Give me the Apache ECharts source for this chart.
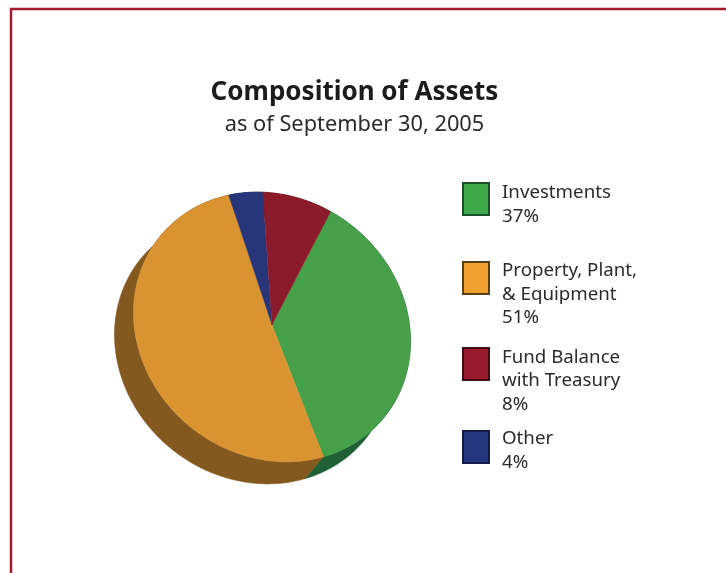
<!DOCTYPE html>
<html>
<head>
<meta charset="utf-8">
<style>html,body{margin:0;padding:0;background:#fff}#c{width:726px;height:573px}</style>
<script src="https://cdn.jsdelivr.net/npm/echarts@6/dist/echarts.min.js"></script>
</head>
<body>
<div id="c"></div>
<script>
const categories = ['Investments', 'Property, Plant,\n& Equipment', 'Fund Balance\nwith Treasury', 'Other'];
const shares = [37, 51, 8, 4];
const sweepOrder = [0, 1, 3, 2];          // clockwise order of the wedges around the disc
const faceColors = ['#45a049', '#d99330', '#8b1a2a', '#27367a'];
const wallColors = ['#1f6035', '#84591f', '#5a1119', '#18234f'];
const keyColors = ['#3fa949', '#f0a02e', '#9b1b2e', '#24367f'];
const keyEdges = ['#1d4f2a', '#5a3f16', '#3d1015', '#141d45'];
const keyTops = [183, 262, 348, 431];
const blockMiddles = [204.5, 294.5, 381, 450.5];

const FONT = '"Noto Sans", "Open Sans", sans-serif';
const disc = { cx: 272, cy: 327, apexX: 272, apexY: 325, major: 144, minor: 129, tilt: 142, dx: -19, dy: 22 };
const firstBoundary = -80;                // parametric angle where the first wedge begins

const rad = d => d * Math.PI / 180;
function rim(t, ox, oy) {
  const ca = Math.cos(rad(t)), sa = Math.sin(rad(t));
  const ct = Math.cos(rad(disc.tilt)), st = Math.sin(rad(disc.tilt));
  const u = disc.major * ca, v = disc.minor * sa;
  return [disc.cx + ox + u * ct - v * st, disc.cy + oy - (u * st + v * ct)];
}
function arc(from, to, ox, oy) {
  const n = Math.max(2, Math.ceil(Math.abs(to - from) / 2));
  const out = [];
  for (let i = 0; i <= n; i++) out.push(rim(from + (to - from) * i / n, ox, oy));
  return out;
}

// [share, boundary angle at start of wedge, colour index]
const wedgeRows = [];
let cursor = firstBoundary;
sweepOrder.forEach(i => {
  wedgeRows.push([shares[i], cursor, i]);
  cursor -= shares[i] * 3.6;
});

function renderWall(params, api) {
  const start = api.value(1), end = start - api.value(0) * 3.6;
  const pts = arc(start, end, 0, 0).concat(arc(end, start, disc.dx, disc.dy));
  const color = wallColors[api.value(2)];
  return { type: 'polygon', shape: { points: pts }, style: { fill: color, stroke: color, lineWidth: 0.6 } };
}
function renderFace(params, api) {
  const start = api.value(1), end = start - api.value(0) * 3.6;
  const pts = [[disc.apexX, disc.apexY]].concat(arc(start, end, 0, 0));
  const color = faceColors[api.value(2)];
  return { type: 'polygon', shape: { points: pts }, style: { fill: color, stroke: color, lineWidth: 0.4 } };
}

const graphics = [{
  type: 'rect', shape: { x: 11, y: 9, width: 760, height: 620 }, silent: true,
  style: { fill: '#fff', stroke: '#a5192f', lineWidth: 2.5 }, z: -1
}];
categories.forEach((name, i) => {
  graphics.push({
    type: 'rect', shape: { x: 463, y: keyTops[i], width: 26, height: 32 },
    style: { fill: keyColors[i], stroke: keyEdges[i], lineWidth: 2 }
  });
  graphics.push({
    type: 'text', x: 502, y: blockMiddles[i],
    style: {
      text: name + '\n' + shares[i] + '%', font: '18.7px ' + FONT, lineHeight: 23.5,
      fill: '#2b2b2b', verticalAlign: 'middle', align: 'left'
    }
  });
});

const chart = echarts.init(document.getElementById('c'), null, { renderer: 'canvas' });
chart.setOption({
  animation: false,
  backgroundColor: '#fff',
  title: {
    text: 'Composition of Assets', subtext: 'as of September 30, 2005',
    left: 349.5, top: 75, textAlign: 'center', itemGap: 8,
    textStyle: { fontFamily: FONT, fontSize: 26, fontWeight: 'bold', color: '#1c1c1c' },
    subtextStyle: { fontFamily: FONT, fontSize: 21.8, color: '#2b2b2b' }
  },
  graphic: graphics,
  series: [
    { type: 'custom', coordinateSystem: 'none', silent: true, renderItem: renderWall, data: wedgeRows, z: 2 },
    { type: 'custom', coordinateSystem: 'none', silent: true, renderItem: renderFace, data: wedgeRows, z: 3 }
  ]
});
</script>
</body>
</html>
